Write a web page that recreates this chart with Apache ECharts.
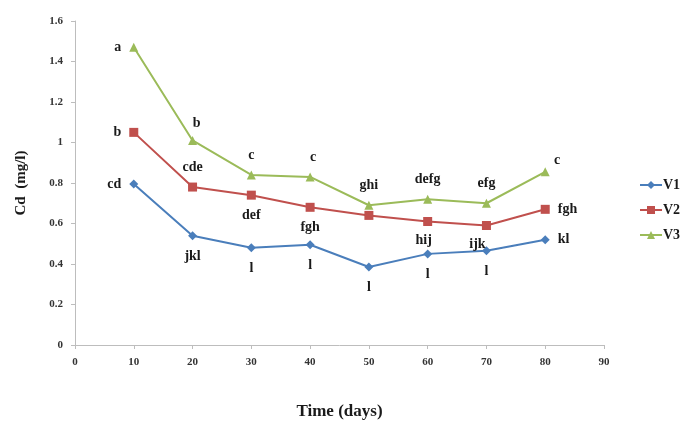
<!DOCTYPE html>
<html><head><meta charset="utf-8">
<script src="https://cdn.jsdelivr.net/npm/echarts@6/dist/echarts.min.js"></script>
<style>html,body{margin:0;padding:0;background:#fff}#c{width:687px;height:425px}</style>
</head><body><div id="c"></div>
<script>
const days = [10, 20, 30, 40, 50, 60, 70, 80];
const v1 = [0.795, 0.54, 0.48, 0.495, 0.385, 0.45, 0.465, 0.52];
const v2 = [1.05, 0.78, 0.74, 0.68, 0.64, 0.61, 0.59, 0.67];
const v3 = [1.47, 1.01, 0.84, 0.83, 0.69, 0.72, 0.70, 0.855];
const v1Letters = ['cd', 'jkl', 'l', 'l', 'l', 'l', 'l', 'kl'];
const v2Letters = ['b', 'cde', 'def', 'fgh', '', 'hij', 'ijk', 'fgh'];
const v3Letters = ['a', 'b', 'c', 'c', 'ghi', 'defg', 'efg', 'c'];
const xTicks = [0, 10, 20, 30, 40, 50, 60, 70, 80, 90];
const yTicks = [0, 0.2, 0.4, 0.6, 0.8, 1, 1.2, 1.4, 1.6];

const v1Pos = ['left', 'bottom', 'bottom', 'bottom', 'bottom', 'bottom', 'bottom', 'right'];
const v2Pos = ['left', 'top', 'bottom', 'bottom', 'bottom', 'bottom', 'bottom', 'right'];
const v3Pos = ['left', 'top', 'top', 'top', 'top', 'top', 'top', 'top'];
const v2Offsets = [[0,0],[0,0],[0,0],[0,0],[0,0],[-4,-2],[-9,-2],[0,0]];
const v3Offsets = [[0,0],[4,2],[0,0],[3,0],[0,0],[0,0],[0,0],[12,8]];

const font = '"Liberation Serif", "Times New Roman", serif';
function build(vals, letters, pos, offs) {
  return vals.map((v, i) => ({
    value: [days[i], v],
    label: {
      show: letters[i] !== '',
      formatter: letters[i],
      position: pos[i],
      distance: pos[i] === 'bottom' ? 9 : 8,
      offset: offs ? offs[i] : [0, 0]
    }
  }));
}
const labelStyle = { fontFamily: font, fontWeight: 'bold', fontSize: 14, color: '#1a1a1a' };

const chart = echarts.init(document.getElementById('c'));
chart.setOption({
  animation: false,
  grid: { left: 75, right: 83, top: 21, bottom: 78, containLabel: false },
  xAxis: {
    type: 'value', min: 0, max: 90, interval: 10,
    name: 'Time (days)', nameLocation: 'middle', nameGap: 58,
    nameTextStyle: { fontFamily: font, fontWeight: 'bold', fontSize: 17, color: '#1a1a1a' },
    axisLine: { lineStyle: { color: '#bdbdbd', width: 1 } },
    axisTick: { show: true, length: 4, lineStyle: { color: '#bdbdbd' } },
    splitLine: { show: false },
    axisLabel: { fontFamily: font, fontWeight: 'bold', fontSize: 11, color: '#333', margin: 12,
      formatter: v => xTicks.includes(v) ? String(v) : '' }
  },
  yAxis: {
    type: 'value', min: 0, max: 1.6, interval: 0.2,
    name: 'Cd  (mg/l)', nameLocation: 'middle', nameGap: 46, nameRotate: 90,
    nameTextStyle: { fontFamily: font, fontWeight: 'bold', fontSize: 15, color: '#1a1a1a' },
    axisLine: { show: true, lineStyle: { color: '#bdbdbd', width: 1 } },
    axisTick: { show: true, length: 4, lineStyle: { color: '#bdbdbd' } },
    splitLine: { show: false },
    axisLabel: { fontFamily: font, fontWeight: 'bold', fontSize: 11, color: '#333', margin: 12,
      formatter: v => { const t = yTicks.find(y => Math.abs(y - v) < 1e-6); return t === undefined ? '' : String(t); } }
  },
  legend: {
    orient: 'vertical', left: 634, top: 173, itemGap: 11, itemWidth: 22, itemHeight: 10,
    textStyle: { fontFamily: font, fontWeight: 'bold', fontSize: 14, color: '#1a1a1a', padding: [0, 0, 0, -4] },
    data: ['V1', 'V2', 'V3']
  },
  series: [
    { name: 'V1', type: 'line', data: build(v1, v1Letters, v1Pos), symbol: 'diamond', symbolSize: 9,
      itemStyle: { color: '#4a7ebb' }, lineStyle: { color: '#4a7ebb', width: 2 }, label: labelStyle },
    { name: 'V2', type: 'line', data: build(v2, v2Letters, v2Pos, v2Offsets), symbol: 'rect', symbolSize: 9,
      itemStyle: { color: '#c0504d' }, lineStyle: { color: '#c0504d', width: 2 }, label: labelStyle },
    { name: 'V3', type: 'line', data: build(v3, v3Letters, v3Pos, v3Offsets), symbol: 'triangle', symbolSize: 9,
      itemStyle: { color: '#9bbb59' }, lineStyle: { color: '#9bbb59', width: 2 }, label: labelStyle }
  ]
});
</script></body></html>
